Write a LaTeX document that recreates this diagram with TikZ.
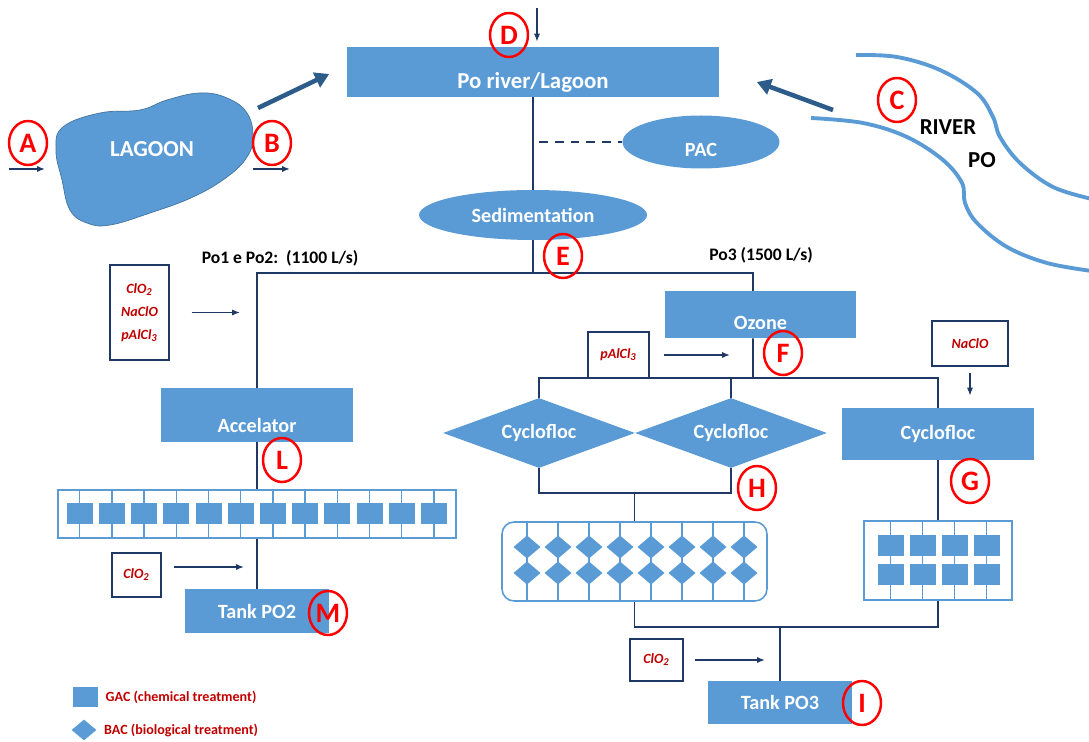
\documentclass[tikz,border=0pt]{standalone}
\usepackage{fontspec}
\setmainfont{Carlito}
\usetikzlibrary{shapes.geometric, arrows.meta, positioning, calc}

\definecolor{fillblue}{HTML}{5B9BD5}
\definecolor{linenavy}{HTML}{1F3864}
\definecolor{arrowblue}{HTML}{2E5C8A}
\definecolor{markred}{HTML}{FF0000}
\definecolor{chemred}{HTML}{C00000}

\tikzset{
  sunk/.style={text height=#1, text depth=0pt},
  tag/.style={ellipse, draw=markred, line width=1.4pt, text=markred, inner sep=0pt,
    minimum width=0.76cm, minimum height=0.88cm, font=\bfseries\fontsize{16}{16}\selectfont},
}

\begin{document}
\begin{tikzpicture}[x=0.02cm, y=-0.02cm, >=Latex, font=\bfseries\fontsize{11.5}{13}\selectfont,
  unit/.style={rectangle, fill=fillblue, text=white, inner sep=0pt},
  pool/.style={ellipse, fill=fillblue, text=white, inner sep=0pt},
  floc/.style={diamond, fill=fillblue, text=white, inner sep=0pt, aspect=2.74,
    minimum width=3.84cm, minimum height=1.4cm},
  bed/.style={draw=fillblue, line width=0.9pt, inner sep=0pt},
  chem/.style={draw=linenavy, line width=0.8pt, inner sep=0pt, text=chemred, align=center,
    font=\bfseries\itshape\fontsize{8}{13}\selectfont},
  pipe/.style={draw=linenavy, line width=1pt},
  feed/.style={draw=linenavy, line width=0.8pt, -{Latex[length=4.5pt,width=3.5pt]}},
  flow/.style={draw=arrowblue, line width=2.6pt, -{Triangle[length=8pt,width=9pt]}},
  key/.style={text=chemred, inner sep=0pt, font=\bfseries\fontsize{8}{10}\selectfont}]
  \useasboundingbox (0,0) rectangle (1089,742);

  % lagoon and river
  \draw[fill=fillblue, draw=fillblue!75!black, line width=0.4pt] plot[smooth cycle, tension=0.7]
    coordinates {(63,127) (100,113) (140,110) (167,100) (200,93) (227,98) (247,113) (253,137)
      (247,157) (227,177) (193,197) (150,213) (110,225) (87,223) (70,210) (62,180) (56,150)};
  \node[text=white, font=\bfseries\fontsize{13}{15}\selectfont] (lag) at (152,149) {LAGOON};
  \draw[fillblue, line width=2.2pt] plot[smooth, tension=0.6] coordinates {(856,55) (897,57)
    (940,70) (977,93) (993,117) (1000,137) (1020,163) (1053,187) (1092,199)};
  \draw[fillblue, line width=2.2pt] plot[smooth, tension=0.6] coordinates {(811,118) (863,123)
    (907,137) (943,160) (962,183) (965,203) (977,223) (1007,247) (1047,263) (1092,271)};
  \node[font=\bfseries\fontsize{13}{15}\selectfont] (riv) at (948,127) {RIVER};
  \node[font=\bfseries\fontsize{13}{15}\selectfont] (rivpo) at (982,160) {PO};

  % treatment units
  \node[unit, minimum width=7.46cm, minimum height=1cm, sunk=0.66cm,
    font=\bfseries\fontsize{13}{15}\selectfont] (po) at (533,72) {Po river/Lagoon};
  \node[pool, minimum width=3.14cm, minimum height=1.06cm, sunk=0.58cm] (pac) at (701,142) {PAC};
  \node[pool, minimum width=4.56cm, minimum height=1cm] (sed) at (533,215) {Sedimentation};
  \node[unit, minimum width=3.82cm, minimum height=0.94cm, sunk=0.62cm] (oz) at (760.5,314.5) {Ozone};
  \node[unit, minimum width=3.86cm, minimum height=1.08cm, sunk=0.69cm] (acc) at (257,415) {Accelator};
  \node[floc] (cycA) at (539,433) {Cyclofloc};
  \node[floc] (cycB) at (731,433) {Cyclofloc};
  \node[unit, minimum width=3.86cm, minimum height=1.04cm] (cycR) at (938,434) {Cyclofloc};
  \node[bed, minimum width=7.96cm, minimum height=0.96cm] (gacL) at (257,514) {};
  \node[bed, rounded corners=0.24cm, minimum width=5.3cm, minimum height=1.58cm] (bac) at (634.5,561.5) {};
  \node[bed, minimum width=2.96cm, minimum height=1.58cm] (gacR) at (938,560.5) {};
  \node[unit, minimum width=2.9cm, minimum height=0.88cm] (tank2) at (257,611) {Tank PO2};
  \node[unit, minimum width=2.9cm, minimum height=0.86cm] (tank3) at (780,702.5) {Tank PO3};

  % filter beds
  \foreach \x in {0,...,11} {
    \draw[fillblue, line width=0.9pt] (79.7+32.2*\x,490) -- ++(0,48);
    \fill[fillblue] (66.7+32.2*\x,503) rectangle ++(26,21);
  }
  \foreach \x in {0,...,7} {
    \draw[fillblue, line width=0.9pt] (527+31*\x,522) -- ++(0,79);
    \foreach \y in {547,573}
      \fill[fillblue] (513.5+31*\x,\y) -- ++(13.5,-11.5) -- ++(13.5,11.5) -- ++(-13.5,11.5) -- cycle;
  }
  \foreach \x in {0,...,3} {
    \draw[fillblue, line width=0.9pt] (890.5+32*\x,521) -- ++(0,79);
    \foreach \y in {546,575}
      \fill[fillblue] (877.5+32*\x,\y-10.5) rectangle ++(26,21);
  }

  % dosing
  \node[chem, minimum width=1.18cm, minimum height=1.9cm] (chemA) at (139.5,312.5)
    {ClO\textsubscript{2}\\NaClO\\pAlCl\textsubscript{3}};
  \node[chem, minimum width=1.22cm, minimum height=0.92cm] (chemB) at (618.5,355) {pAlCl\textsubscript{3}};
  \node[chem, minimum width=1.52cm, minimum height=0.9cm] (chemC) at (970,343.5) {NaClO};
  \node[chem, minimum width=0.98cm, minimum height=0.88cm] (chemD) at (136.5,575) {ClO\textsubscript{2}};
  \node[chem, minimum width=1.06cm, minimum height=0.84cm] (chemE) at (656.5,660) {ClO\textsubscript{2}};

  \node (flowA) at (280,258) {\fontsize{10}{12}\selectfont Po1 e Po2:\ \ (1100 L/s)};
  \node (flowB) at (761,255) {\fontsize{10}{12}\selectfont Po3 (1500 L/s)};

  % connections
  \coordinate (split) at (533,273);
  \coordinate (split2) at (753,378);
  \coordinate (join1) at (634.5,493);
  \coordinate (join2) at (780,627);
  \draw[pipe] (po) -- (sed);
  \draw[pipe, dash pattern=on 5pt off 4pt] ([xshift=0.12cm]pac.west -| po.south) -- (pac.west);
  \draw[pipe] (sed) -- (split);
  \draw[pipe] (acc) |- (split) -| ([xshift=-0.15cm]oz.north);
  \draw[pipe] ([xshift=-0.15cm]oz.south) -- (split2);
  \draw[pipe] (cycA) |- (split2) -| (cycR);
  \draw[pipe] (cycB) -- (cycB |- split2);
  \draw[pipe] (cycA) |- (join1) -| (cycB);
  \draw[pipe] (join1) -- (bac);
  \draw[pipe] (cycR) -- (gacR);
  \draw[pipe] (bac) |- (join2) -| (gacR);
  \draw[pipe] (join2) -- (tank3);
  \draw[pipe] (acc) -- (gacL);
  \draw[pipe] (gacL) -- (tank2);

  \draw[feed] ([xshift=0.44cm]chemA.east) -- ([xshift=-0.34cm]chemA.east -| acc.north);
  \draw[feed] ([xshift=0.28cm]chemB.east) -- ([xshift=-0.46cm]chemB.east -| split2);
  \draw[feed] ([yshift=-0.12cm]chemC.south) -- ([yshift=0.24cm]cycR.north -| chemC.south);
  \draw[feed] ([xshift=0.24cm,yshift=0.16cm]chemD.east) -- ([xshift=-0.26cm,yshift=0.16cm]chemD.east -| tank2.north);
  \draw[feed] ([xshift=0.22cm]chemE.east) -- ([xshift=-0.3cm]chemE.east -| join2);

  \coordinate (ain) at (9,169);
  \coordinate (bout) at (253,169);
  \coordinate (din) at (537,8);
  \draw[feed] (ain) -- ++(36,0);
  \draw[feed] (bout) -- ++(37,0);
  \draw[feed] (din) -- ([yshift=0.1cm]din |- po.north);

  \coordinate (lagout) at (258,108);
  \coordinate (riverout) at (833,110);
  \draw[flow] (lagout) -- ([xshift=-0.34cm,yshift=-0.04cm]po.west);
  \draw[flow] (riverout) -- ([xshift=0.74cm,yshift=-0.2cm]po.east);

  % sampling points
  \node[tag] (tA) at (28,143) {A};
  \node[tag] (tB) at (272,143) {B};
  \node[tag] (tC) at (897,100) {C};
  \node[tag] (tD) at (509,35) {D};
  \node[tag] (tE) at (563,256) {E};
  \node[tag] (tF) at (783,353) {F};
  \node[tag] (tG) at (970,481) {G};
  \node[tag] (tH) at (757,488) {H};
  \node[tag] (tI) at (862,703) {I};
  \node[tag] (tL) at (282,460) {L};
  \node[tag] (tM) at (328,613) {M};

  % legend
  \node[fill=fillblue, minimum width=0.5cm, minimum height=0.4cm, inner sep=0pt] (keyG) at (85.5,697) {};
  \node[key, right=0.14cm of keyG] (keyGt) {GAC (chemical treatment)};
  \node[diamond, fill=fillblue, minimum width=0.5cm, minimum height=0.42cm, inner sep=0pt] (keyB) at (84,730) {};
  \node[key, right=0.14cm of keyB] (keyBt) {BAC (biological treatment)};
\end{tikzpicture}
\end{document}
